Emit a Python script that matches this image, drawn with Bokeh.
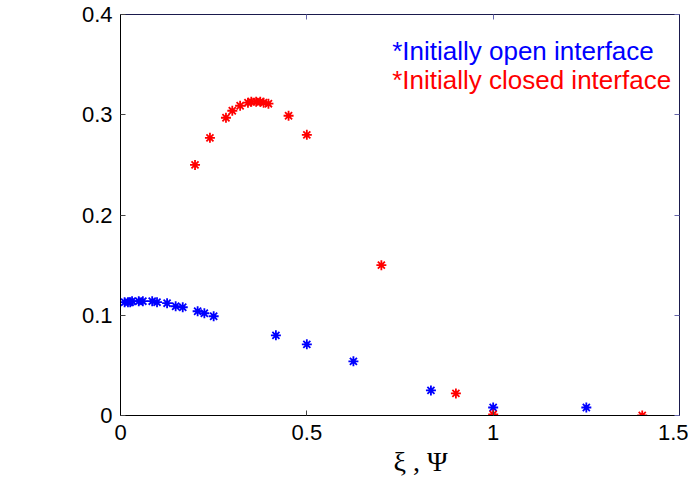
from bokeh.plotting import figure
from bokeh.models import Range1d, FixedTicker, CustomJSTickFormatter, LinearAxis, Label, Title
from bokeh.embed import file_html
from bokeh.resources import INLINE

# Data
open_xi = [0.011, 0.020, 0.026, 0.031, 0.049, 0.060, 0.085, 0.098, 0.125, 0.148,
           0.167, 0.207, 0.225, 0.250, 0.417, 0.500, 0.625, 0.833, 1.000, 1.250]
open_eta = [0.113, 0.113, 0.113, 0.114, 0.114, 0.114, 0.114, 0.113, 0.112, 0.109,
            0.108, 0.104, 0.102, 0.099, 0.080, 0.071, 0.054, 0.025, 0.008, 0.008]

closed_psi = [0.200, 0.240, 0.283, 0.300, 0.321, 0.342, 0.351, 0.364, 0.375, 0.384,
              0.397, 0.451, 0.500, 0.700, 0.900, 1.000, 1.400]
closed_eta = [0.250, 0.277, 0.297, 0.304, 0.309, 0.312, 0.313, 0.313, 0.313, 0.312,
              0.311, 0.299, 0.280, 0.150, 0.022, 0.001, 0.000]

x_ticks = [0, 0.5, 1, 1.5]
y_ticks = [0, 0.1, 0.2, 0.3, 0.4]
legend_open = "*Initially open interface"
legend_closed = "*Initially closed interface"
x_label = "ξ , Ψ"
y_label = "η"

SANS = "Liberation Sans"
SERIF = "Liberation Serif"

p = figure(width=688, height=485, output_backend="svg", toolbar_location=None,
           x_range=Range1d(0, 1.5), y_range=Range1d(0, 0.4),
           min_border_left=120, min_border_right=9, min_border_top=14, min_border_bottom=70)
p.background_fill_color = "white"
p.border_fill_color = "white"
p.outline_line_color = "#1a1a4d"
p.outline_line_width = 1
p.grid.visible = False

fmt = CustomJSTickFormatter(code="return tick.toString();")
blank = CustomJSTickFormatter(code="return '';")

for ax in p.xaxis:
    ax.ticker = FixedTicker(ticks=x_ticks)
    ax.formatter = fmt
for ax in p.yaxis:
    ax.ticker = FixedTicker(ticks=y_ticks)
    ax.formatter = fmt

for ax in list(p.xaxis) + list(p.yaxis):
    ax.major_tick_in = 5
    ax.major_tick_out = 0
    ax.minor_tick_in = 0
    ax.minor_tick_out = 0
    ax.axis_line_color = "black"
    ax.major_tick_line_color = "#444444"
    ax.major_label_text_font = SANS
    ax.major_label_text_font_size = "22px"
    ax.major_label_text_color = "black"

p.yaxis.major_label_standoff = 8
p.xaxis.major_label_standoff = 9

# right and top box axes (ticks only)
for side in ("right", "above"):
    ax = LinearAxis(ticker=FixedTicker(ticks=y_ticks if side == "right" else x_ticks),
                    formatter=blank, major_label_standoff=0,
                    major_tick_in=5, major_tick_out=0, minor_tick_in=0, minor_tick_out=0,
                    axis_line_color="#1a1a4d", major_tick_line_color="#6666aa")
    p.add_layout(ax, side)

p.scatter(open_xi, open_eta, marker="asterisk", size=10, line_color="#0000ff",
          line_width=1.8)
p.scatter(closed_psi, closed_eta, marker="asterisk", size=10, line_color="#ff0000",
          line_width=1.8)

p.add_layout(Label(x=0.729, y=0.364, text=legend_open, text_color="#0000ff",
                   text_font=SANS, text_font_size="26px", text_baseline="alphabetic"))
p.add_layout(Label(x=0.729, y=0.335, text=legend_closed, text_color="#ff0000",
                   text_font=SANS, text_font_size="26px", text_baseline="alphabetic"))
p.add_layout(Label(x=-0.224, y=0.198, text=y_label, text_color="black",
                   text_font=SERIF, text_font_size="30px", text_align="center",
                   text_baseline="middle"))
p.add_layout(Title(text=x_label, align="left", offset=273, text_font=SERIF,
                   text_font_size="28px", text_font_style="normal",
                   text_color="black", standoff=2), "below")

open("out.html", "w").write(file_html(p, INLINE))
